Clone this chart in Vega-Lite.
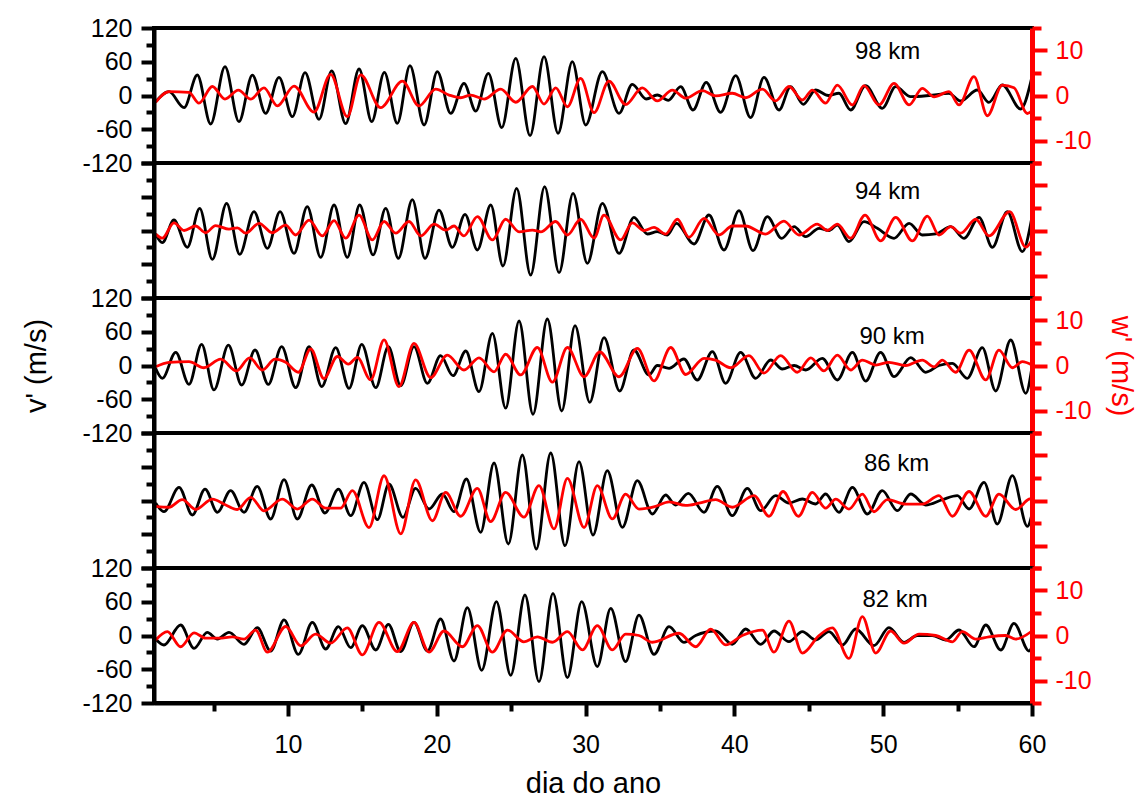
{
  "$schema": "https://vega.github.io/schema/vega-lite/v6.json",
  "padding": {"left": 20, "top": 14, "right": 5, "bottom": 0},
  "spacing": 0,
  "bounds": "flush",
  "config": {"font": "Liberation Sans", "view": {"stroke": "black", "strokeWidth": 4}},
  "datasets": {
    "lab": [
      {"h": 98, "d": 50.3, "v": 78, "t": "98 km"},
      {"h": 94, "d": 50.3, "v": 69, "t": "94 km"},
      {"h": 90, "d": 50.6, "v": 50, "t": "90 km"},
      {"h": 86, "d": 50.9, "v": 65, "t": "86 km"},
      {"h": 82, "d": 50.8, "v": 63, "t": "82 km"}
    ],
    "v": [
      {"h":98,"d":1.11,"v":-11},{"h":98,"d":2.01,"v":6.8},{"h":98,"d":3.02,"v":-21.6},{"h":98,"d":3.91,"v":36.4},{"h":98,"d":4.81,"v":-50.7},{"h":98,"d":5.77,"v":51.3},{"h":98,"d":6.71,"v":-46.5},{"h":98,"d":7.61,"v":36.4},{"h":98,"d":8.5,"v":-31.7},{"h":98,"d":9.4,"v":32.3},{"h":98,"d":10.3,"v":-37.6},{"h":98,"d":11.15,"v":40.6},{"h":98,"d":12.09,"v":-42.4},{"h":98,"d":12.94,"v":43.6},{"h":98,"d":13.88,"v":-50.1},{"h":98,"d":14.78,"v":47.1},{"h":98,"d":15.63,"v":-46.5},{"h":98,"d":16.48,"v":41.2},{"h":98,"d":17.35,"v":-49.5},{"h":98,"d":18.2,"v":53},{"h":98,"d":19.15,"v":-52.4},{"h":98,"d":20.04,"v":42.4},{"h":98,"d":20.94,"v":-31.7},{"h":98,"d":21.83,"v":21.6},{"h":98,"d":22.62,"v":-27.6},{"h":98,"d":23.47,"v":39.4},{"h":98,"d":24.37,"v":-57.2},{"h":98,"d":25.31,"v":66.1},{"h":98,"d":26.27,"v":-71.4},{"h":98,"d":27.21,"v":69},{"h":98,"d":28.15,"v":-67.3},{"h":98,"d":29.11,"v":60.1},{"h":98,"d":30.01,"v":-52.4},{"h":98,"d":31.13,"v":42.4},{"h":98,"d":32.25,"v":-31.7},{"h":98,"d":33.14,"v":19.9},{"h":98,"d":34.08,"v":-6.2},{"h":98,"d":34.82,"v":0.9},{"h":98,"d":35.56,"v":-8.6},{"h":98,"d":36.39,"v":15.7},{"h":98,"d":37.22,"v":-25.8},{"h":98,"d":38.11,"v":23.4},{"h":98,"d":39.08,"v":-29.9},{"h":98,"d":40.09,"v":35.3},{"h":98,"d":41.09,"v":-39.4},{"h":98,"d":41.99,"v":32.3},{"h":98,"d":43,"v":-25.8},{"h":98,"d":43.78,"v":15.7},{"h":98,"d":44.63,"v":-15.7},{"h":98,"d":45.46,"v":9.8},{"h":98,"d":46.31,"v":0},{"h":98,"d":47.03,"v":4},{"h":98,"d":47.81,"v":-25.8},{"h":98,"d":48.82,"v":17.5},{"h":98,"d":49.94,"v":-22.8},{"h":98,"d":50.84,"v":15.7},{"h":98,"d":51.85,"v":-2},{"h":98,"d":53.08,"v":0},{"h":98,"d":54.42,"v":3.8},{"h":98,"d":55.21,"v":-9.8},{"h":98,"d":56.33,"v":9.8},{"h":98,"d":57.11,"v":-12.1},{"h":98,"d":58.01,"v":18.7},{"h":98,"d":59.24,"v":-24},{"h":98,"d":60,"v":33.5},
      {"h":94,"d":1.11,"v":-6.2},{"h":94,"d":1.56,"v":-21.6},{"h":94,"d":2.34,"v":18.7},{"h":94,"d":3.24,"v":-29.9},{"h":94,"d":4.07,"v":39.4},{"h":94,"d":4.92,"v":-51.3},{"h":94,"d":5.88,"v":48.3},{"h":94,"d":6.76,"v":-42.4},{"h":94,"d":7.72,"v":33.5},{"h":94,"d":8.62,"v":-31.7},{"h":94,"d":9.47,"v":33.5},{"h":94,"d":10.41,"v":-40.6},{"h":94,"d":11.3,"v":42.4},{"h":94,"d":12.2,"v":-47.7},{"h":94,"d":13.1,"v":45.3},{"h":94,"d":13.99,"v":-47.7},{"h":94,"d":14.82,"v":45.3},{"h":94,"d":15.72,"v":-43.5},{"h":94,"d":16.57,"v":39.4},{"h":94,"d":17.42,"v":-49.5},{"h":94,"d":18.36,"v":55},{"h":94,"d":19.21,"v":-49.5},{"h":94,"d":20.15,"v":36.4},{"h":94,"d":21.05,"v":-29.9},{"h":94,"d":21.9,"v":28.7},{"h":94,"d":22.73,"v":-34.7},{"h":94,"d":23.63,"v":45.3},{"h":94,"d":24.45,"v":-63.1},{"h":94,"d":25.37,"v":75},{"h":94,"d":26.31,"v":-79.1},{"h":94,"d":27.25,"v":77.9},{"h":94,"d":28.22,"v":-75},{"h":94,"d":29.16,"v":66.1},{"h":94,"d":30.12,"v":-58.4},{"h":94,"d":31.13,"v":48.3},{"h":94,"d":32.25,"v":-40.6},{"h":94,"d":33.25,"v":23.4},{"h":94,"d":34.15,"v":-6.2},{"h":94,"d":34.82,"v":-2},{"h":94,"d":35.49,"v":-8},{"h":94,"d":36.1,"v":12.7},{"h":94,"d":37.29,"v":-24},{"h":94,"d":38.29,"v":27.6},{"h":94,"d":39.3,"v":-34.7},{"h":94,"d":40.31,"v":35.3},{"h":94,"d":41.25,"v":-35.9},{"h":94,"d":42.21,"v":24.6},{"h":94,"d":43.18,"v":-13.9},{"h":94,"d":44.01,"v":6.8},{"h":94,"d":44.79,"v":-11},{"h":94,"d":45.69,"v":3.9},{"h":94,"d":46.36,"v":0},{"h":94,"d":46.92,"v":9.8},{"h":94,"d":47.7,"v":-19.9},{"h":94,"d":48.71,"v":15.7},{"h":94,"d":49.61,"v":3.9},{"h":94,"d":50.73,"v":-13.9},{"h":94,"d":51.74,"v":12.7},{"h":94,"d":52.63,"v":-8},{"h":94,"d":53.53,"v":-6.2},{"h":94,"d":54.54,"v":6.8},{"h":94,"d":55.43,"v":-13.9},{"h":94,"d":56.44,"v":23.4},{"h":94,"d":57.34,"v":-29.9},{"h":94,"d":58.34,"v":33.5},{"h":94,"d":59.35,"v":-37.6},{"h":94,"d":60,"v":24.6},
      {"h":90,"d":1.11,"v":-5},{"h":90,"d":1.56,"v":-22.8},{"h":90,"d":2.46,"v":23.4},{"h":90,"d":3.35,"v":-33.5},{"h":90,"d":4.2,"v":37.6},{"h":90,"d":5.03,"v":-43.5},{"h":90,"d":6,"v":36.4},{"h":90,"d":6.89,"v":-34.7},{"h":90,"d":7.79,"v":27.6},{"h":90,"d":8.68,"v":-33.5},{"h":90,"d":9.58,"v":33.5},{"h":90,"d":10.52,"v":-39.4},{"h":90,"d":11.42,"v":33.5},{"h":90,"d":12.27,"v":-37.6},{"h":90,"d":13.21,"v":31.7},{"h":90,"d":14.11,"v":-40.6},{"h":90,"d":14.96,"v":37.6},{"h":90,"d":15.9,"v":-39.4},{"h":90,"d":16.75,"v":33.5},{"h":90,"d":17.58,"v":-35.9},{"h":90,"d":18.47,"v":33.5},{"h":90,"d":19.37,"v":-31.7},{"h":90,"d":20.26,"v":17.5},{"h":90,"d":21.09,"v":-18.1},{"h":90,"d":21.95,"v":25.8},{"h":90,"d":22.84,"v":-46.5},{"h":90,"d":23.74,"v":57.2},{"h":90,"d":24.63,"v":-75.9},{"h":90,"d":25.53,"v":79.1},{"h":90,"d":26.47,"v":-86.8},{"h":90,"d":27.43,"v":82.7},{"h":90,"d":28.4,"v":-80.9},{"h":90,"d":29.29,"v":70.8},{"h":90,"d":30.28,"v":-65.5},{"h":90,"d":31.24,"v":49.5},{"h":90,"d":32.29,"v":-45.3},{"h":90,"d":33.25,"v":27.6},{"h":90,"d":34.26,"v":-16.9},{"h":90,"d":34.82,"v":0},{"h":90,"d":35.61,"v":-5},{"h":90,"d":36.61,"v":11.6},{"h":90,"d":37.51,"v":-25.8},{"h":90,"d":38.52,"v":24.6},{"h":90,"d":39.41,"v":-31.7},{"h":90,"d":40.42,"v":23.4},{"h":90,"d":41.43,"v":-22.8},{"h":90,"d":42.44,"v":9.8},{"h":90,"d":43.22,"v":-6.2},{"h":90,"d":44.01,"v":0},{"h":90,"d":44.79,"v":-8},{"h":90,"d":45.91,"v":12.7},{"h":90,"d":46.92,"v":-25.8},{"h":90,"d":47.93,"v":23.4},{"h":90,"d":48.82,"v":-27.6},{"h":90,"d":49.83,"v":23.4},{"h":90,"d":50.73,"v":-19.9},{"h":90,"d":51.85,"v":13.9},{"h":90,"d":52.86,"v":-12.1},{"h":90,"d":53.75,"v":0},{"h":90,"d":54.65,"v":3.9},{"h":90,"d":55.65,"v":-22.8},{"h":90,"d":56.66,"v":31.7},{"h":90,"d":57.56,"v":-45.3},{"h":90,"d":58.57,"v":45.3},{"h":90,"d":59.58,"v":-49.5},{"h":90,"d":60,"v":-2},
      {"h":86,"d":1.11,"v":-4.4},{"h":86,"d":1.67,"v":-19.9},{"h":86,"d":2.68,"v":23.4},{"h":86,"d":3.58,"v":-25.8},{"h":86,"d":4.43,"v":20.4},{"h":86,"d":5.26,"v":-21},{"h":86,"d":6.15,"v":17.5},{"h":86,"d":7.05,"v":-21},{"h":86,"d":7.94,"v":25.2},{"h":86,"d":8.84,"v":-32.9},{"h":86,"d":9.74,"v":37},{"h":86,"d":10.63,"v":-32.9},{"h":86,"d":11.6,"v":27.6},{"h":86,"d":12.49,"v":-22.2},{"h":86,"d":13.39,"v":20.4},{"h":86,"d":14.22,"v":-27},{"h":86,"d":15.11,"v":32.3},{"h":86,"d":16.01,"v":-34.1},{"h":86,"d":16.79,"v":29.3},{"h":86,"d":17.73,"v":-29.9},{"h":86,"d":18.58,"v":21.6},{"h":86,"d":19.48,"v":-15.1},{"h":86,"d":20.38,"v":11.6},{"h":86,"d":21.16,"v":-19.9},{"h":86,"d":21.99,"v":38.2},{"h":86,"d":22.95,"v":-56.6},{"h":86,"d":23.85,"v":66.7},{"h":86,"d":24.81,"v":-77.3},{"h":86,"d":25.75,"v":80.9},{"h":86,"d":26.69,"v":-86.2},{"h":86,"d":27.66,"v":84.4},{"h":86,"d":28.62,"v":-80.3},{"h":86,"d":29.56,"v":69},{"h":86,"d":30.5,"v":-61.3},{"h":86,"d":31.46,"v":53},{"h":86,"d":32.47,"v":-47.7},{"h":86,"d":33.48,"v":35.3},{"h":86,"d":34.49,"v":-24},{"h":86,"d":35.38,"v":9.8},{"h":86,"d":36.05,"v":-8},{"h":86,"d":36.91,"v":12.7},{"h":86,"d":37.96,"v":-21},{"h":86,"d":38.85,"v":25.2},{"h":86,"d":39.86,"v":-27},{"h":86,"d":40.87,"v":21.6},{"h":86,"d":41.77,"v":-18.1},{"h":86,"d":42.77,"v":8.6},{"h":86,"d":43.67,"v":-4.4},{"h":86,"d":44.57,"v":2.7},{"h":86,"d":45.46,"v":-6.2},{"h":86,"d":46.13,"v":11.6},{"h":86,"d":47.03,"v":-21},{"h":86,"d":47.93,"v":23.4},{"h":86,"d":48.94,"v":-24},{"h":86,"d":49.94,"v":17.5},{"h":86,"d":50.95,"v":-18.1},{"h":86,"d":51.85,"v":11.6},{"h":86,"d":52.86,"v":-8},{"h":86,"d":53.98,"v":1.5},{"h":86,"d":54.98,"v":8.6},{"h":86,"d":55.77,"v":-15.1},{"h":86,"d":56.78,"v":32.3},{"h":86,"d":57.67,"v":-41.8},{"h":86,"d":58.68,"v":44.1},{"h":86,"d":59.69,"v":-45.9},{"h":86,"d":60,"v":-24},
      {"h":82,"d":1.11,"v":-6.2},{"h":82,"d":1.67,"v":-16.9},{"h":82,"d":2.79,"v":18.7},{"h":82,"d":3.69,"v":-22.8},{"h":82,"d":4.58,"v":5.6},{"h":82,"d":5.26,"v":-6.2},{"h":82,"d":6.04,"v":5.6},{"h":82,"d":7.05,"v":-15.7},{"h":82,"d":7.94,"v":13.9},{"h":82,"d":8.84,"v":-27.6},{"h":82,"d":9.74,"v":27.6},{"h":82,"d":10.7,"v":-33.5},{"h":82,"d":11.64,"v":23.4},{"h":82,"d":12.54,"v":-24},{"h":82,"d":13.39,"v":15.7},{"h":82,"d":14.22,"v":-21.6},{"h":82,"d":15,"v":17.5},{"h":82,"d":15.9,"v":-25.8},{"h":82,"d":16.75,"v":19.9},{"h":82,"d":17.58,"v":-28.7},{"h":82,"d":18.47,"v":23.4},{"h":82,"d":19.37,"v":-27.6},{"h":82,"d":20.26,"v":29.3},{"h":82,"d":21.16,"v":-45.3},{"h":82,"d":22.06,"v":49.5},{"h":82,"d":23.02,"v":-61.9},{"h":82,"d":24.01,"v":60.1},{"h":82,"d":24.97,"v":-70.8},{"h":82,"d":25.93,"v":72},{"h":82,"d":26.87,"v":-82.1},{"h":82,"d":27.81,"v":75},{"h":82,"d":28.78,"v":-75},{"h":82,"d":29.74,"v":60.1},{"h":82,"d":30.79,"v":-55.3},{"h":82,"d":31.69,"v":48.3},{"h":82,"d":32.69,"v":-46.5},{"h":82,"d":33.59,"v":36.4},{"h":82,"d":34.6,"v":-33.5},{"h":82,"d":35.61,"v":15.7},{"h":82,"d":36.61,"v":-12.1},{"h":82,"d":37.4,"v":0},{"h":82,"d":38.74,"v":8},{"h":82,"d":39.86,"v":-15.7},{"h":82,"d":40.76,"v":11.6},{"h":82,"d":41.77,"v":-15.7},{"h":82,"d":42.66,"v":8},{"h":82,"d":43.67,"v":-11},{"h":82,"d":44.57,"v":6.8},{"h":82,"d":45.46,"v":-8},{"h":82,"d":46.36,"v":6.8},{"h":82,"d":47.26,"v":-16.9},{"h":82,"d":48.15,"v":11.6},{"h":82,"d":49.38,"v":-18.1},{"h":82,"d":50.39,"v":13.9},{"h":82,"d":51.4,"v":-12.1},{"h":82,"d":52.3,"v":0},{"h":82,"d":53.3,"v":0},{"h":82,"d":54.2,"v":-8},{"h":82,"d":55.1,"v":9.8},{"h":82,"d":56.1,"v":-19.9},{"h":82,"d":56.9,"v":18.7},{"h":82,"d":57.9,"v":-25.8},{"h":82,"d":58.79,"v":21.6},{"h":82,"d":59.8,"v":-27.6},{"h":82,"d":60,"v":-19.9}
    ],
    "w": [
      {"h":98,"d":1.11,"w":-1.5},{"h":98,"d":2.01,"w":0.85},{"h":98,"d":3.35,"w":0.7},{"h":98,"d":4.02,"w":-1.7},{"h":98,"d":4.92,"w":2},{"h":98,"d":5.77,"w":-0.8},{"h":98,"d":6.67,"w":1.2},{"h":98,"d":7.5,"w":-0.8},{"h":98,"d":8.39,"w":1.7},{"h":98,"d":9.29,"w":-2.3},{"h":98,"d":10.41,"w":2.1},{"h":98,"d":11.75,"w":-3.7},{"h":98,"d":12.87,"w":4.7},{"h":98,"d":13.99,"w":-4.7},{"h":98,"d":14.89,"w":4.6},{"h":98,"d":16.23,"w":-2.7},{"h":98,"d":17.69,"w":3.2},{"h":98,"d":18.81,"w":-2.3},{"h":98,"d":19.93,"w":1.4},{"h":98,"d":20.83,"w":0.1},{"h":98,"d":21.61,"w":-0.5},{"h":98,"d":22.28,"w":0.1},{"h":98,"d":23.18,"w":-0.8},{"h":98,"d":24.3,"w":1.4},{"h":98,"d":25.31,"w":-1.5},{"h":98,"d":26.43,"w":2},{"h":98,"d":27.21,"w":-1.9},{"h":98,"d":28,"w":1.7},{"h":98,"d":28.78,"w":-2.5},{"h":98,"d":29.67,"w":3.8},{"h":98,"d":30.57,"w":-3.8},{"h":98,"d":31.57,"w":3.2},{"h":98,"d":32.69,"w":-2},{"h":98,"d":33.81,"w":1.7},{"h":98,"d":34.82,"w":-1.2},{"h":98,"d":35.83,"w":1.2},{"h":98,"d":36.73,"w":-0.6},{"h":98,"d":37.85,"w":1.1},{"h":98,"d":38.74,"w":-0.1},{"h":98,"d":39.86,"w":0.5},{"h":98,"d":40.76,"w":-0.5},{"h":98,"d":41.88,"w":1.4},{"h":98,"d":42.77,"w":-1.2},{"h":98,"d":43.67,"w":2},{"h":98,"d":44.57,"w":-1},{"h":98,"d":45.24,"w":1.2},{"h":98,"d":46.13,"w":-1.7},{"h":98,"d":46.92,"w":2.3},{"h":98,"d":47.93,"w":-2.1},{"h":98,"d":48.71,"w":2.2},{"h":98,"d":49.72,"w":-2.1},{"h":98,"d":50.73,"w":2.7},{"h":98,"d":51.74,"w":-2.1},{"h":98,"d":52.63,"w":1.6},{"h":98,"d":53.42,"w":-0.3},{"h":98,"d":54.42,"w":0.85},{"h":98,"d":55.1,"w":-2.1},{"h":98,"d":56.1,"w":4.2},{"h":98,"d":57,"w":-4.5},{"h":98,"d":58,"w":2.3},{"h":98,"d":58.79,"w":1.7},{"h":98,"d":59.69,"w":-4},{"h":98,"d":60,"w":-3.4},
      {"h":94,"d":1.11,"w":-0.8},{"h":94,"d":1.56,"w":-1.7},{"h":94,"d":2.34,"w":1.7},{"h":94,"d":3.02,"w":0},{"h":94,"d":3.8,"w":1},{"h":94,"d":4.47,"w":-0.5},{"h":94,"d":5.14,"w":1.1},{"h":94,"d":6.04,"w":0.3},{"h":94,"d":6.6,"w":0.6},{"h":94,"d":7.16,"w":-0.6},{"h":94,"d":8.06,"w":1.6},{"h":94,"d":8.95,"w":-0.5},{"h":94,"d":9.85,"w":1.2},{"h":94,"d":10.52,"w":-1},{"h":94,"d":11.42,"w":2.3},{"h":94,"d":12.31,"w":-1.2},{"h":94,"d":13.1,"w":2.2},{"h":94,"d":13.88,"w":-1.7},{"h":94,"d":14.78,"w":3.4},{"h":94,"d":15.67,"w":-2.1},{"h":94,"d":16.46,"w":2},{"h":94,"d":17.24,"w":-0.6},{"h":94,"d":18.14,"w":2},{"h":94,"d":18.92,"w":-1.2},{"h":94,"d":19.82,"w":1.4},{"h":94,"d":20.6,"w":0.1},{"h":94,"d":21.16,"w":1},{"h":94,"d":21.83,"w":-1.2},{"h":94,"d":22.73,"w":3.1},{"h":94,"d":23.74,"w":-2.1},{"h":94,"d":24.63,"w":2.5},{"h":94,"d":25.53,"w":-0.3},{"h":94,"d":26.43,"w":0.1},{"h":94,"d":26.99,"w":-0.3},{"h":94,"d":27.99,"w":2},{"h":94,"d":28.78,"w":-1},{"h":94,"d":29.67,"w":2.5},{"h":94,"d":30.57,"w":-1.7},{"h":94,"d":31.24,"w":3.4},{"h":94,"d":32.36,"w":-2.1},{"h":94,"d":33.14,"w":1.7},{"h":94,"d":33.93,"w":0},{"h":94,"d":34.6,"w":0.7},{"h":94,"d":35.38,"w":-0.8},{"h":94,"d":36.17,"w":2.5},{"h":94,"d":36.95,"w":-1.5},{"h":94,"d":37.96,"w":2.7},{"h":94,"d":38.97,"w":-1},{"h":94,"d":39.86,"w":1},{"h":94,"d":40.76,"w":1},{"h":94,"d":42.1,"w":-0.8},{"h":94,"d":43.33,"w":2.1},{"h":94,"d":44.34,"w":-1},{"h":94,"d":45.57,"w":1.4},{"h":94,"d":46.25,"w":0},{"h":94,"d":46.92,"w":1.4},{"h":94,"d":47.81,"w":-1.7},{"h":94,"d":48.78,"w":3.4},{"h":94,"d":49.83,"w":-2.3},{"h":94,"d":50.84,"w":2.9},{"h":94,"d":51.96,"w":-2.3},{"h":94,"d":52.97,"w":3.2},{"h":94,"d":53.75,"w":-1},{"h":94,"d":54.54,"w":0.85},{"h":94,"d":55.21,"w":-0.6},{"h":94,"d":56.22,"w":2.5},{"h":94,"d":57.11,"w":-1.2},{"h":94,"d":58.5,"w":4.2},{"h":94,"d":59.58,"w":-3.7},{"h":94,"d":60,"w":-2.1},
      {"h":90,"d":1.11,"w":-0.3},{"h":90,"d":2.01,"w":0.7},{"h":90,"d":3.35,"w":0.85},{"h":90,"d":4.36,"w":-0.5},{"h":90,"d":5.48,"w":1.4},{"h":90,"d":6.53,"w":-1.2},{"h":90,"d":7.43,"w":1.7},{"h":90,"d":8.28,"w":-1},{"h":90,"d":9.13,"w":1.4},{"h":90,"d":9.85,"w":0.7},{"h":90,"d":10.7,"w":-1.5},{"h":90,"d":11.53,"w":3.7},{"h":90,"d":12.42,"w":-2.9},{"h":90,"d":13.32,"w":2},{"h":90,"d":14.06,"w":0.3},{"h":90,"d":14.66,"w":1.8},{"h":90,"d":15.56,"w":-3.2},{"h":90,"d":16.46,"w":5.7},{"h":90,"d":17.46,"w":-4.7},{"h":90,"d":18.47,"w":4.9},{"h":90,"d":19.59,"w":-2.7},{"h":90,"d":20.71,"w":2.3},{"h":90,"d":21.83,"w":-1},{"h":90,"d":22.84,"w":1.7},{"h":90,"d":23.85,"w":-1.4},{"h":90,"d":24.63,"w":2.5},{"h":90,"d":25.64,"w":-2.1},{"h":90,"d":26.76,"w":4},{"h":90,"d":27.77,"w":-3.7},{"h":90,"d":28.78,"w":4},{"h":90,"d":29.9,"w":-2.5},{"h":90,"d":30.95,"w":3},{"h":90,"d":32.25,"w":-2.5},{"h":90,"d":33.48,"w":3.8},{"h":90,"d":34.6,"w":-3.4},{"h":90,"d":35.72,"w":4},{"h":90,"d":36.73,"w":-2},{"h":90,"d":37.96,"w":1.6},{"h":90,"d":38.74,"w":1.2},{"h":90,"d":39.75,"w":-0.5},{"h":90,"d":40.98,"w":2.2},{"h":90,"d":41.99,"w":-1.7},{"h":90,"d":43.11,"w":2.2},{"h":90,"d":44.23,"w":-1.5},{"h":90,"d":45.13,"w":1.7},{"h":90,"d":46.02,"w":-1.2},{"h":90,"d":46.92,"w":2.3},{"h":90,"d":47.81,"w":-1},{"h":90,"d":48.6,"w":1.2},{"h":90,"d":49.5,"w":0.1},{"h":90,"d":50.39,"w":0.7},{"h":90,"d":51.51,"w":0},{"h":90,"d":52.63,"w":1.2},{"h":90,"d":53.42,"w":-0.3},{"h":90,"d":53.97,"w":1.2},{"h":90,"d":54.87,"w":-1.5},{"h":90,"d":55.77,"w":3.4},{"h":90,"d":56.89,"w":-3.2},{"h":90,"d":57.78,"w":3.4},{"h":90,"d":58.68,"w":-0.5},{"h":90,"d":59.35,"w":0.85},{"h":90,"d":60,"w":0.1},
      {"h":86,"d":1.11,"w":-1.3},{"h":86,"d":2.01,"w":-1.5},{"h":86,"d":2.9,"w":0.2},{"h":86,"d":3.8,"w":-2},{"h":86,"d":4.92,"w":0.3},{"h":86,"d":5.82,"w":-1},{"h":86,"d":6.6,"w":-2},{"h":86,"d":7.5,"w":0.7},{"h":86,"d":8.39,"w":-2.3},{"h":86,"d":9.62,"w":0.3},{"h":86,"d":10.63,"w":-1.9},{"h":86,"d":11.64,"w":0.3},{"h":86,"d":12.54,"w":-1.7},{"h":86,"d":13.54,"w":-1.7},{"h":86,"d":14.33,"w":2.2},{"h":86,"d":15.45,"w":-6},{"h":86,"d":16.46,"w":5.5},{"h":86,"d":17.58,"w":-7.4},{"h":86,"d":18.58,"w":4.6},{"h":86,"d":19.71,"w":-4.5},{"h":86,"d":20.6,"w":1.8},{"h":86,"d":21.61,"w":-3.5},{"h":86,"d":22.73,"w":2.7},{"h":86,"d":23.62,"w":-4.7},{"h":86,"d":24.63,"w":1.8},{"h":86,"d":25.86,"w":-3.7},{"h":86,"d":26.87,"w":3.3},{"h":86,"d":27.88,"w":-6.3},{"h":86,"d":28.78,"w":4.9},{"h":86,"d":29.9,"w":-6},{"h":86,"d":30.79,"w":3.3},{"h":86,"d":31.8,"w":-4.1},{"h":86,"d":32.69,"w":1.4},{"h":86,"d":33.59,"w":-1.9},{"h":86,"d":34.71,"w":-1.3},{"h":86,"d":35.61,"w":-0.3},{"h":86,"d":36.73,"w":-1.1},{"h":86,"d":37.62,"w":-0.6},{"h":86,"d":38.74,"w":0.2},{"h":86,"d":39.86,"w":-1.5},{"h":86,"d":41.32,"w":1.1},{"h":86,"d":42.33,"w":-3.5},{"h":86,"d":43.27,"w":2},{"h":86,"d":44.3,"w":-3.5},{"h":86,"d":45.24,"w":1.8},{"h":86,"d":46.13,"w":-1.7},{"h":86,"d":46.81,"w":0.3},{"h":86,"d":47.7,"w":-1.9},{"h":86,"d":48.6,"w":1.4},{"h":86,"d":49.38,"w":-2.5},{"h":86,"d":50.28,"w":0.2},{"h":86,"d":51.51,"w":-0.8},{"h":86,"d":52.63,"w":-0.8},{"h":86,"d":53.75,"w":1.1},{"h":86,"d":54.65,"w":-3.5},{"h":86,"d":55.77,"w":2},{"h":86,"d":56.89,"w":-3.5},{"h":86,"d":57.78,"w":1.4},{"h":86,"d":58.9,"w":-2},{"h":86,"d":59.8,"w":0.3},{"h":86,"d":60,"w":0.5},
      {"h":82,"d":1.11,"w":-1},{"h":82,"d":1.9,"w":0.85},{"h":82,"d":2.79,"w":-2.5},{"h":82,"d":3.69,"w":0.6},{"h":82,"d":4.47,"w":-0.6},{"h":82,"d":5.37,"w":-0.6},{"h":82,"d":6.26,"w":-0.3},{"h":82,"d":7.05,"w":-0.8},{"h":82,"d":7.83,"w":1.2},{"h":82,"d":8.62,"w":-3.7},{"h":82,"d":9.85,"w":2},{"h":82,"d":10.86,"w":-2.3},{"h":82,"d":11.86,"w":0.3},{"h":82,"d":12.87,"w":-1.7},{"h":82,"d":13.99,"w":1.7},{"h":82,"d":15,"w":-4.3},{"h":82,"d":16.12,"w":2.9},{"h":82,"d":17.35,"w":-3.6},{"h":82,"d":18.47,"w":2.9},{"h":82,"d":19.48,"w":-3.7},{"h":82,"d":20.49,"w":1},{"h":82,"d":21.72,"w":-2.5},{"h":82,"d":22.73,"w":2.2},{"h":82,"d":23.74,"w":-3.7},{"h":82,"d":24.75,"w":1.2},{"h":82,"d":25.86,"w":-1.4},{"h":82,"d":26.76,"w":-0.3},{"h":82,"d":27.77,"w":-1.5},{"h":82,"d":28.78,"w":0.85},{"h":82,"d":29.79,"w":-3.2},{"h":82,"d":30.79,"w":2.2},{"h":82,"d":31.8,"w":-3.2},{"h":82,"d":32.69,"w":0.3},{"h":82,"d":33.59,"w":0},{"h":82,"d":34.49,"w":-1.5},{"h":82,"d":36.28,"w":0.5},{"h":82,"d":37.4,"w":-2.5},{"h":82,"d":38.41,"w":1.4},{"h":82,"d":39.41,"w":-2.1},{"h":82,"d":40.53,"w":0},{"h":82,"d":41.88,"w":1.2},{"h":82,"d":42.66,"w":-3.7},{"h":82,"d":43.67,"w":3.2},{"h":82,"d":44.57,"w":-3.9},{"h":82,"d":45.69,"w":0},{"h":82,"d":46.58,"w":1.7},{"h":82,"d":47.7,"w":-5.1},{"h":82,"d":48.6,"w":4.2},{"h":82,"d":49.5,"w":-3.9},{"h":82,"d":50.5,"w":1},{"h":82,"d":51.4,"w":-1.7},{"h":82,"d":52.41,"w":0.3},{"h":82,"d":53.53,"w":0},{"h":82,"d":54.65,"w":-1.4},{"h":82,"d":55.32,"w":0.85},{"h":82,"d":56.22,"w":-0.8},{"h":82,"d":57.11,"w":-0.3},{"h":82,"d":58.23,"w":0},{"h":82,"d":58.9,"w":-0.8},{"h":82,"d":60,"w":1}
    ]
  },
  "vconcat": [
    {
      "width": 878, "height": 135,
      "encoding": {"x": {"field": "d", "type": "quantitative", "scale": {"domain": [1, 60], "nice": false}, "axis": null}},
      "layer": [
        {"encoding": {"y": {"field": "v", "type": "quantitative", "scale": {"domain": [-120, 120], "nice": false},
                   "axis": {"values": [-120,-90,-60,-30,0,30,60,90,120], "labelExpr": "datum.value % 60 === 0 ? '' + datum.value : ''", "tickSize": {"condition": {"test": "datum.value % 60 === 0", "value": 13}, "value": 8}, "tickWidth": 4, "tickColor": "black", "domainColor": "black", "domainWidth": 4, "labelColor": "black", "labelFontSize": 25, "labelPadding": 9, "labelOverlap": false, "labelFlush": false, "grid": false, "title": null, "zindex": 1}}},
         "layer": [
          {"data": {"name": "v"}, "transform": [{"filter": "datum.h == 98"}],
           "mark": {"type": "line", "interpolate": "monotone", "color": "black", "strokeWidth": 2.8}, "encoding": {}},
          {"data": {"name": "lab"}, "transform": [{"filter": "datum.h == 98"}],
           "mark": {"type": "text", "fontSize": 24, "color": "black"},
           "encoding": {"text": {"field": "t"}}}
        ]},
        {"data": {"name": "w"}, "transform": [{"filter": "datum.h == 98"}],
         "mark": {"type": "line", "interpolate": "monotone", "color": "red", "strokeWidth": 2.8},
         "encoding": {
           "y": {"field": "w", "type": "quantitative", "scale": {"domain": [-15, 15], "nice": false},
                 "axis": {"orient": "right", "values": [-15,-10,-5,0,5,10,15], "labelExpr": "datum.value % 10 === 0 ? '' + datum.value : ''", "tickSize": {"condition": {"test": "datum.value % 10 === 0", "value": 15}, "value": 9}, "tickWidth": 4, "tickColor": "red", "domainColor": "red", "domainWidth": 5, "labelColor": "red", "labelFontSize": 25, "labelPadding": 8, "labelOverlap": false, "labelFlush": false, "grid": false, "title": null, "zindex": 1}}
         }}
      ],
      "resolve": {"scale": {"y": "independent"}}
    },
    {
      "width": 878, "height": 135,
      "encoding": {"x": {"field": "d", "type": "quantitative", "scale": {"domain": [1, 60], "nice": false}, "axis": null}},
      "layer": [
        {"encoding": {"y": {"field": "v", "type": "quantitative", "scale": {"domain": [-120, 120], "nice": false},
                   "axis": {"values": [-120,-90,-60,-30,0,30,60,90,120], "labels": false, "tickSize": {"condition": {"test": "datum.value % 60 === 0", "value": 13}, "value": 8}, "tickWidth": 4, "tickColor": "black", "domainColor": "black", "domainWidth": 4, "grid": false, "title": null, "zindex": 1}}},
         "layer": [
          {"data": {"name": "v"}, "transform": [{"filter": "datum.h == 94"}],
           "mark": {"type": "line", "interpolate": "monotone", "color": "black", "strokeWidth": 2.8}, "encoding": {}},
          {"data": {"name": "lab"}, "transform": [{"filter": "datum.h == 94"}],
           "mark": {"type": "text", "fontSize": 24, "color": "black"},
           "encoding": {"text": {"field": "t"}}}
        ]},
        {"data": {"name": "w"}, "transform": [{"filter": "datum.h == 94"}],
         "mark": {"type": "line", "interpolate": "monotone", "color": "red", "strokeWidth": 2.8},
         "encoding": {
           "y": {"field": "w", "type": "quantitative", "scale": {"domain": [-15, 15], "nice": false},
                 "axis": {"orient": "right", "values": [-15,-10,-5,0,5,10,15], "labels": false, "tickSize": {"condition": {"test": "datum.value % 10 === 0", "value": 15}, "value": 9}, "tickWidth": 4, "tickColor": "red", "domainColor": "red", "domainWidth": 5, "grid": false, "title": null, "zindex": 1}}
         }}
      ],
      "resolve": {"scale": {"y": "independent"}}
    },
    {
      "width": 878, "height": 135,
      "encoding": {"x": {"field": "d", "type": "quantitative", "scale": {"domain": [1, 60], "nice": false}, "axis": null}},
      "layer": [
        {"encoding": {"y": {"field": "v", "type": "quantitative", "scale": {"domain": [-120, 120], "nice": false},
                   "axis": {"values": [-120,-90,-60,-30,0,30,60,90,120], "labelExpr": "datum.value % 60 === 0 ? '' + datum.value : ''", "tickSize": {"condition": {"test": "datum.value % 60 === 0", "value": 13}, "value": 8}, "tickWidth": 4, "tickColor": "black", "domainColor": "black", "domainWidth": 4, "labelColor": "black", "labelFontSize": 25, "labelPadding": 9, "labelOverlap": false, "labelFlush": false, "grid": false, "title": "v' (m/s)", "titleFontSize": 29, "titleFontWeight": "normal", "titleColor": "black", "titlePadding": 30, "zindex": 1}}},
         "layer": [
          {"data": {"name": "v"}, "transform": [{"filter": "datum.h == 90"}],
           "mark": {"type": "line", "interpolate": "monotone", "color": "black", "strokeWidth": 2.8}, "encoding": {}},
          {"data": {"name": "lab"}, "transform": [{"filter": "datum.h == 90"}],
           "mark": {"type": "text", "fontSize": 24, "color": "black"},
           "encoding": {"text": {"field": "t"}}}
        ]},
        {"data": {"name": "w"}, "transform": [{"filter": "datum.h == 90"}],
         "mark": {"type": "line", "interpolate": "monotone", "color": "red", "strokeWidth": 2.8},
         "encoding": {
           "y": {"field": "w", "type": "quantitative", "scale": {"domain": [-15, 15], "nice": false},
                 "axis": {"orient": "right", "values": [-15,-10,-5,0,5,10,15], "labelExpr": "datum.value % 10 === 0 ? '' + datum.value : ''", "tickSize": {"condition": {"test": "datum.value % 10 === 0", "value": 15}, "value": 9}, "tickWidth": 4, "tickColor": "red", "domainColor": "red", "domainWidth": 5, "labelColor": "red", "labelFontSize": 25, "labelPadding": 8, "labelOverlap": false, "labelFlush": false, "grid": false, "title": "w' (m/s)", "titleFontSize": 29, "titleFontWeight": "normal", "titleColor": "red", "titlePadding": 14, "zindex": 1}}
         }}
      ],
      "resolve": {"scale": {"y": "independent"}}
    },
    {
      "width": 878, "height": 135,
      "encoding": {"x": {"field": "d", "type": "quantitative", "scale": {"domain": [1, 60], "nice": false}, "axis": null}},
      "layer": [
        {"encoding": {"y": {"field": "v", "type": "quantitative", "scale": {"domain": [-120, 120], "nice": false},
                   "axis": {"values": [-120,-90,-60,-30,0,30,60,90,120], "labels": false, "tickSize": {"condition": {"test": "datum.value % 60 === 0", "value": 13}, "value": 8}, "tickWidth": 4, "tickColor": "black", "domainColor": "black", "domainWidth": 4, "grid": false, "title": null, "zindex": 1}}},
         "layer": [
          {"data": {"name": "v"}, "transform": [{"filter": "datum.h == 86"}],
           "mark": {"type": "line", "interpolate": "monotone", "color": "black", "strokeWidth": 2.8}, "encoding": {}},
          {"data": {"name": "lab"}, "transform": [{"filter": "datum.h == 86"}],
           "mark": {"type": "text", "fontSize": 24, "color": "black"},
           "encoding": {"text": {"field": "t"}}}
        ]},
        {"data": {"name": "w"}, "transform": [{"filter": "datum.h == 86"}],
         "mark": {"type": "line", "interpolate": "monotone", "color": "red", "strokeWidth": 2.8},
         "encoding": {
           "y": {"field": "w", "type": "quantitative", "scale": {"domain": [-15, 15], "nice": false},
                 "axis": {"orient": "right", "values": [-15,-10,-5,0,5,10,15], "labels": false, "tickSize": {"condition": {"test": "datum.value % 10 === 0", "value": 15}, "value": 9}, "tickWidth": 4, "tickColor": "red", "domainColor": "red", "domainWidth": 5, "grid": false, "title": null, "zindex": 1}}
         }}
      ],
      "resolve": {"scale": {"y": "independent"}}
    },
    {
      "width": 878, "height": 135,
      "encoding": {"x": {"field": "d", "type": "quantitative", "scale": {"domain": [1, 60], "nice": false},
                   "axis": {"values": [5,10,15,20,25,30,35,40,45,50,55,60], "labelExpr": "datum.value % 10 === 0 ? '' + datum.value : ''", "tickSize": {"condition": {"test": "datum.value % 10 === 0", "value": 13}, "value": 8}, "tickWidth": 4, "tickColor": "black", "domainColor": "black", "domainWidth": 4, "labelColor": "black", "labelFontSize": 25, "labelPadding": 16, "labelOverlap": false, "labelFlush": false, "grid": false, "title": "dia do ano", "titleFontSize": 29, "titleFontWeight": "normal", "titleColor": "black", "titlePadding": 12, "zindex": 1}}},
      "layer": [
        {"encoding": {"y": {"field": "v", "type": "quantitative", "scale": {"domain": [-120, 120], "nice": false},
                   "axis": {"values": [-120,-90,-60,-30,0,30,60,90,120], "labelExpr": "datum.value % 60 === 0 ? '' + datum.value : ''", "tickSize": {"condition": {"test": "datum.value % 60 === 0", "value": 13}, "value": 8}, "tickWidth": 4, "tickColor": "black", "domainColor": "black", "domainWidth": 4, "labelColor": "black", "labelFontSize": 25, "labelPadding": 9, "labelOverlap": false, "labelFlush": false, "grid": false, "title": null, "zindex": 1}}},
         "layer": [
          {"data": {"name": "v"}, "transform": [{"filter": "datum.h == 82"}],
           "mark": {"type": "line", "interpolate": "monotone", "color": "black", "strokeWidth": 2.8}, "encoding": {}},
          {"data": {"name": "lab"}, "transform": [{"filter": "datum.h == 82"}],
           "mark": {"type": "text", "fontSize": 24, "color": "black"},
           "encoding": {"text": {"field": "t"}}}
        ]},
        {"data": {"name": "w"}, "transform": [{"filter": "datum.h == 82"}],
         "mark": {"type": "line", "interpolate": "monotone", "color": "red", "strokeWidth": 2.8},
         "encoding": {
           "y": {"field": "w", "type": "quantitative", "scale": {"domain": [-15, 15], "nice": false},
                 "axis": {"orient": "right", "values": [-15,-10,-5,0,5,10,15], "labelExpr": "datum.value % 10 === 0 ? '' + datum.value : ''", "tickSize": {"condition": {"test": "datum.value % 10 === 0", "value": 15}, "value": 9}, "tickWidth": 4, "tickColor": "red", "domainColor": "red", "domainWidth": 5, "labelColor": "red", "labelFontSize": 25, "labelPadding": 8, "labelOverlap": false, "labelFlush": false, "grid": false, "title": null, "zindex": 1}}
         }}
      ],
      "resolve": {"scale": {"y": "independent"}}
    }
  ]
}
